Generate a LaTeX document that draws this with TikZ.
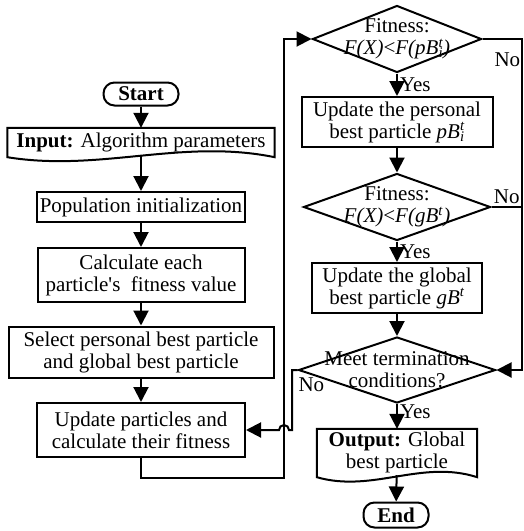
\documentclass[tikz,border=0pt]{standalone}
\usepackage{fontspec}
\setmainfont{Liberation Serif}
\usetikzlibrary{shapes.geometric,arrows.meta,calc}

\newcommand{\supsub}[2]{\rlap{\textsuperscript{\textit{#1}}}\textsubscript{\textit{#2}}}

\tikzset{
	process/.style={draw, rectangle, line width=2pt, align=center, inner sep=0pt, minimum height=54pt},
	terminal/.style={draw, rectangle, rounded corners=11pt, line width=2pt, inner sep=0pt, minimum height=23pt},
	decision/.style={draw, diamond, line width=2pt, inner sep=0pt},
	doc/.style={rectangle, align=center, inner sep=0pt},
	lbl/.style={inner sep=2pt},
	arr/.style={line width=2pt, -{Triangle[length=15pt,width=15pt]}},
	line/.style={line width=2pt},
}

\begin{document}
\begin{tikzpicture}[x=1pt, y=-1pt, font=\fontsize{21}{22}\selectfont]
	\useasboundingbox (0,0) rectangle (524,531);

	% left column
	\node[terminal, minimum width=75pt] at (141, 94)  (start) {\textbf{Start}};
	\node[doc, minimum width=267pt, minimum height=28pt] at (141, 142) (input) {\textbf{Input:} Algorithm parameters};
	\node[process, minimum width=208pt, minimum height=30pt] at (141, 207) (init) {Population initialization};
	\node[process, minimum width=207pt] at (141, 275) (calc) {Calculate each\\particle\textquotesingle s\ \ fitness value};
	\node[process, minimum width=265pt, minimum height=51pt] at (141, 352) (select) {Select personal best particle\\and global best particle};
	\node[process, minimum width=208pt] at (141, 430) (upd) {Update particles and\\calculate their fitness};

	% right column
	\node[decision, minimum width=169pt, minimum height=67pt] at (397, 39) (fitp) {};
	\node[align=center] at (fitp) (fitptext) {Fitness:\\\textit{F(X)}<\textit{F(pB}\supsub{t}{i}\textit{)}};
	\node[process, minimum width=191pt, minimum height=50pt] at (397, 122) (updp) {Update the personal\\best particle \textit{pB}\supsub{t}{i}};
	\node[decision, minimum width=187pt, minimum height=67pt] at (397, 207) (fitg) {};
	\node[align=center] at (fitg) (fitgtext) {Fitness:\\\textit{F(X)}<\textit{F(gB}\textsuperscript{\textit{t}}\textit{)}};
	\node[process, minimum width=170pt, minimum height=50pt] at (397, 288) (updg) {Update the global\\best particle \textit{gB}\textsuperscript{\textit{t}}};
	\node[decision, minimum width=197pt, minimum height=66pt] at (397, 370) (term) {};
	\node[align=center] at (term) (termtext) {Meet termination\\conditions?};
	\node[doc, minimum width=160pt, minimum height=46pt] at (397, 452) (output) {\textbf{Output:} Global\\best particle};
	\node[terminal, minimum width=65pt, minimum height=25pt] at (396, 515) (end) {\textbf{End}};

	% document outlines
	\draw[line] (input.north west) -- (input.north east) -- ($(input.south east)+(0,1)$)
		.. controls ($(input.south east)+(-93,-18)$) and ($(input.south west)+(93,16)$) .. ($(input.south west)+(0,1)$) -- cycle;
	\draw[line] (output.north west) -- (output.north east) -- ($(output.south east)+(0,2)$)
		.. controls ($(output.south east)+(-56,-16)$) and ($(output.south west)+(56,18)$) .. ($(output.south west)+(0,2)$) -- cycle;

	% draw edges
	\draw[arr] (start) -- (input);
	\draw[arr] (input) -- (init);
	\draw[arr] (init) -- (calc);
	\draw[arr] (calc) -- (select);
	\draw[arr] (select) -- (upd);
	\draw[arr] (upd.south) |- (284, 478) |- (fitp.west);

	\draw[arr] (fitp) -- (updp) node[lbl, midway, right] {Yes};
	\draw[arr] (updp) -- (fitg);
	\draw[arr] (fitg) -- (updg) node[lbl, midway, right] {Yes};
	\draw[arr] (updg) -- (term);
	\draw[arr] (term) -- (output) node[lbl, pos=0.3, right] {Yes};
	\draw[arr] (output) -- (end);

	\draw[arr] (fitp.east) -- (522, 39) node[lbl, pos=0.63, below=11pt] {No} |- (term.east);
	\draw[line] (fitg.east) -- (522, 207) node[lbl, midway, above] {No};
	\draw[arr] (term.west) -- (292, 370) node[lbl, at start, anchor=north west, inner sep=0pt, yshift=-7pt] {No}
		-- (292, 430) -- (289, 430) arc[start angle=0, end angle=-180, radius=5] -- (upd.east);
\end{tikzpicture}
\end{document}
